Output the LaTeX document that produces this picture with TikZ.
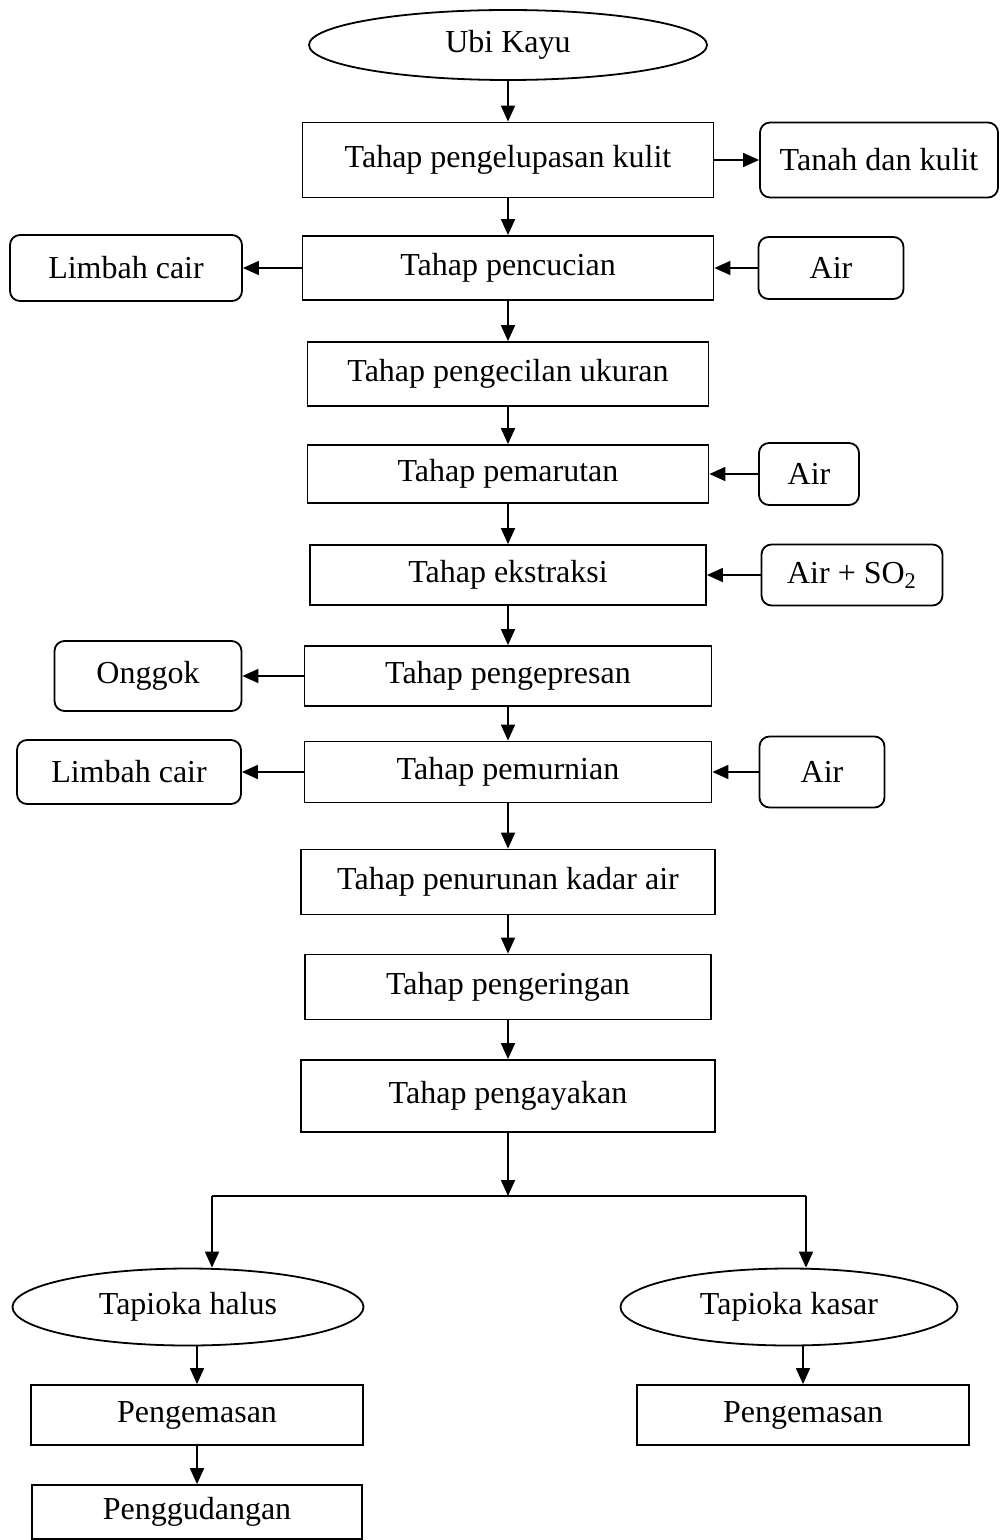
\documentclass[tikz,border=0pt]{standalone}
\usepackage{fontspec}
\setmainfont{Liberation Serif}
\usetikzlibrary{arrows.meta,shapes.geometric}
\tikzset{
    teks/.style={font=\fontsize{16pt}{19pt}\selectfont, inner sep=0pt, line width=0.9pt},
    kotak/.style 2 args={teks, draw, rectangle, minimum width=#1*0.5pt, minimum height=#2*0.5pt},
    bulat/.style 2 args={kotak={#1}{#2}, rounded corners=5pt},
    lonjong/.style 2 args={teks, draw, ellipse, minimum width=#1*0.5pt, minimum height=#2*0.5pt},
    panah/.style={-{Triangle[length=8pt,width=7pt]}, line width=0.9pt},
  }
\begin{document}
\begin{tikzpicture}[x=0.5pt,y=-0.5pt]
				  %satuan = piksel gambar (1000 x 1540)
				  \useasboundingbox (0,0) rectangle (1000,1540);
				  %alur utama
				  \node[lonjong={398}{70}] (U) at (508,45) {Ubi Kayu};
				  \node[kotak={411}{75}] (T1) at (508,160) {Tahap pengelupasan kulit};
				  \node[kotak={411}{64}] (T2) at (508,268) {Tahap pencucian};
				  \node[kotak={401}{64}] (T3) at (508,374) {Tahap pengecilan ukuran};
				  \node[kotak={401}{58}] (T4) at (508,474) {Tahap pemarutan};
				  \node[kotak={396}{60}] (T5) at (508,575) {Tahap ekstraksi};
				  \node[kotak={407}{60}] (T6) at (508,676) {Tahap pengepresan};
				  \node[kotak={407}{61}] (T7) at (508,772) {Tahap pemurnian};
				  \node[kotak={414}{65}] (T8) at (508,882) {Tahap penurunan kadar air};
				  \node[kotak={406}{65}] (T9) at (508,987) {Tahap pengeringan};
				  \node[kotak={414}{72}] (T10) at (508,1096) {Tahap pengayakan};
				  
				  %masukan / keluaran samping
				  \node[bulat={238}{75}] (K) at (879,160) {Tanah dan kulit};
				  \node[bulat={232}{66}] (L1) at (126,268) {Limbah cair};
				  \node[bulat={145}{62}] (A1) at (831,268) {Air};
				  \node[bulat={100}{62}] (A2) at (809,474) {Air};
				  \node[bulat={181}{61}] (A3) at (852,575) {Air + SO\textsubscript{2}};
				  \node[bulat={187}{70}] (O) at (148,676) {Onggok};
				  \node[bulat={224}{64}] (L2) at (129,772) {Limbah cair};
				  \node[bulat={125}{71}] (A4) at (822,772) {Air};
				  
				  %produk
				  \node[lonjong={351}{77}] (H) at (188,1307) {Tapioka halus};
				  \node[lonjong={337}{77}] (S) at (789,1307) {Tapioka kasar};
				  \node[kotak={332}{60}] (P1) at (197,1415) {Pengemasan};
				  \node[kotak={332}{60}] (P2) at (803,1415) {Pengemasan};
				  \node[kotak={330}{54}] (G) at (197,1512) {Penggudangan};
				  
				  \coordinate (C) at (508,1196);
				  \coordinate (CL) at (212,1196);
				  \coordinate (CR) at (806,1196);
				  
				  \foreach \a/\b in {U/T1,T1/T2,T2/T3,T3/T4,T4/T5,T5/T6,T6/T7,T7/T8,T8/T9,T9/T10}
				    \draw[panah] (\a) -- (\b);
				  \draw[panah] (T1) -- (K);
				  \draw[panah] (T2) -- (L1);
				  \draw[panah] (A1) -- (T2);
				  \draw[panah] (A2) -- (T4);
				  \draw[panah] (A3) -- (T5);
				  \draw[panah] (T6) -- (O);
				  \draw[panah] (T7) -- (L2);
				  \draw[panah] (A4) -- (T7);
				  
				  %percabangan
				  \draw[panah] (T10) -- (C);
				  \draw[line width=0.9pt] (CL) -- (CR);
				  \draw[panah] (CL) -- (CL |- H.north);
				  \draw[panah] (CR) -- (CR |- S.north);
				  \draw[panah] (P1.north |- H.south) -- (P1);
				  \draw[panah] (P2.north |- S.south) -- (P2);
				  \draw[panah] (P1) -- (G);
				  \end{tikzpicture}
\end{document}
